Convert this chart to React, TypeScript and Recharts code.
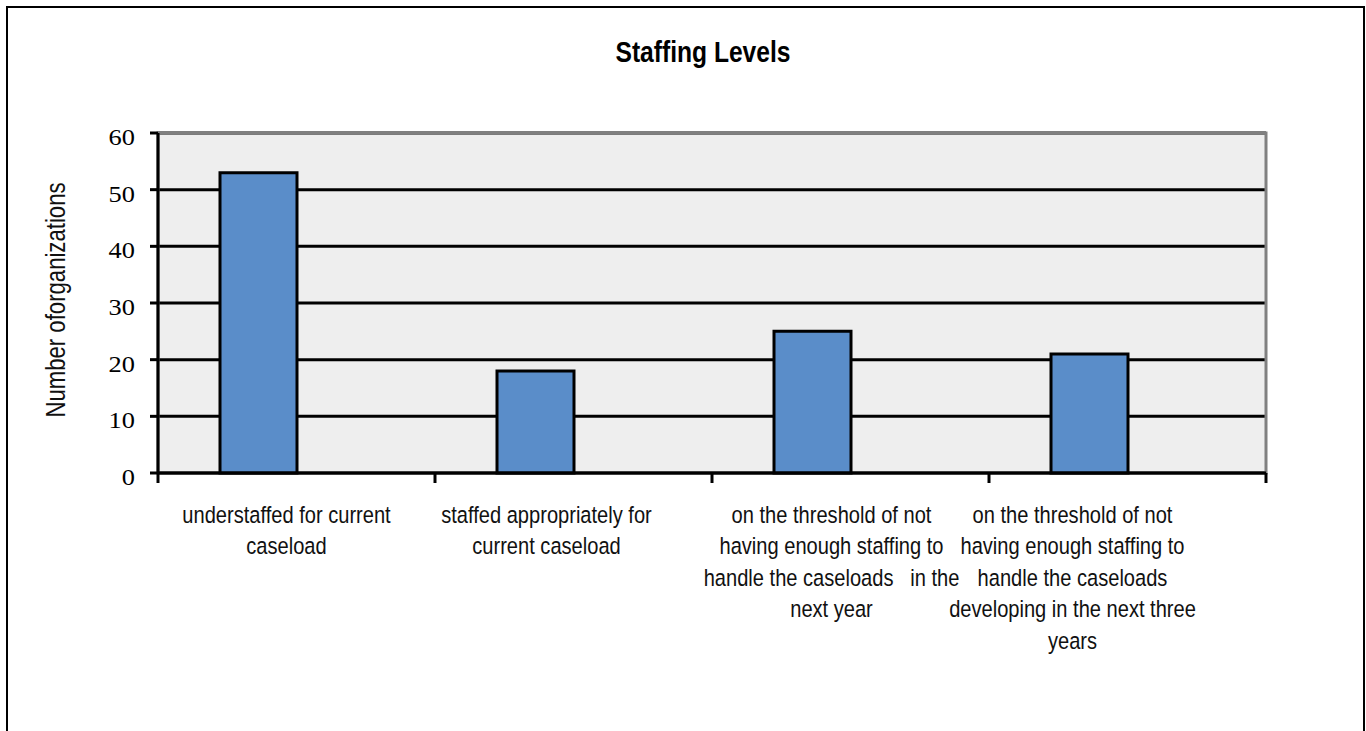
import React from "react";
import { BarChart, Bar, XAxis, YAxis, CartesianGrid, ReferenceArea } from "recharts";

// wrapped category labels, as they appear under the axis
const categoryLines: string[][] = [
  ["understaffed for current", "caseload"],
  ["staffed appropriately for", "current caseload"],
  ["on the threshold of not", "having enough staffing to", "handle the caseloads   in the", "next year"],
  ["on the threshold of not", "having enough staffing to", "handle the caseloads", "developing in the next three", "years"],
];
const categories = categoryLines.map((l) => l.join(" "));
const organizations = [53, 18, 25, 21];
const yTicks = [0, 10, 20, 30, 40, 50, 60];

const data = categories.map((c, i) => ({
  name: c,
  organizations: organizations[i],
  blank: null as number | null,
}));

const SANS = "'Liberation Sans', Arial, sans-serif";
const SERIF = "'Liberation Serif', 'Times New Roman', serif";
const NARROW_X = 0.82; // Arial Narrow look
const PLOT_LEFT = 158;
const PLOT_RIGHT = 1266;
const HALF_BAND = (PLOT_RIGHT - PLOT_LEFT) / categories.length / 2;
const LABEL_SHIFT = [-10, -27, -19, -55];

const YTick = (props: any) => {
  const { x, y, payload } = props;
  return (
    <text
      transform={`translate(${x},${y + 12}) scale(1.1,1)`}
      textAnchor="end"
      style={{ fontFamily: SERIF, fontSize: 24 }}
      fill="#000"
    >
      {payload.value}
    </text>
  );
};

const XTick = (props: any) => {
  const { x, y, payload, index } = props;
  const lines = categoryLines[index] || [String(payload.value)];
  const cx = x + LABEL_SHIFT[index];
  const isLast = index === categories.length - 1;
  return (
    <g>
      <line x1={x - HALF_BAND} x2={x - HALF_BAND} y1={y} y2={y + 10} stroke="#000" strokeWidth={3} />
      {isLast && <line x1={x + HALF_BAND} x2={x + HALF_BAND} y1={y} y2={y + 10} stroke="#000" strokeWidth={3} />}
      <text
        transform={`translate(${cx},${y}) scale(${NARROW_X},1)`}
        textAnchor="middle"
        style={{ fontFamily: SANS, fontSize: 24.5, whiteSpace: "pre" }}
        fill="#111"
      >
        {lines.map((line, i) => (
          <tspan key={i} x={0} y={50 + i * 31.5}>
            {line}
          </tspan>
        ))}
      </text>
    </g>
  );
};

export default function App() {
  return (
    <div style={{ position: "absolute", left: 0, top: 0, width: 1366, height: 731, background: "#fff", overflow: "hidden" }}>
      <div
        style={{
          position: "absolute",
          left: 6,
          top: 6,
          width: 1359,
          height: 725,
          boxSizing: "border-box",
          border: "2px solid #000",
          borderBottom: "none",
        }}
      />
      <div
        style={{
          position: "absolute",
          left: 503,
          width: 400,
          top: 34,
          textAlign: "center",
          fontFamily: SANS,
          fontWeight: "bold",
          fontSize: 30,
          lineHeight: "36px",
          color: "#000",
          transform: `scaleX(${NARROW_X})`,
        }}
      >
        Staffing Levels
      </div>
      <div
        style={{
          position: "absolute",
          left: 56 - 160,
          top: 300 - 16,
          width: 320,
          lineHeight: "32px",
          textAlign: "center",
          fontFamily: SANS,
          fontSize: 27,
          color: "#111",
          transform: `rotate(-90deg) scaleX(${NARROW_X})`,
          transformOrigin: "center",
        }}
      >
        Number oforganizations
      </div>
      <div style={{ position: "absolute", left: 0, top: 0 }}>
        <BarChart
          width={1366}
          height={731}
          data={data}
          margin={{ top: 133, right: 1366 - PLOT_RIGHT, bottom: 0, left: 0 }}
          barCategoryGap={62}
          barGap={0}
        >
          <CartesianGrid vertical={false} fill="#eeeeee" stroke="#000" strokeWidth={3} />
          <ReferenceArea y1={0} y2={60} fill="none" stroke="#808080" strokeWidth={3} fillOpacity={0} />
          <XAxis
            dataKey="name"
            height={258}
            interval={0}
            tickSize={0}
            tickMargin={0}
            tickLine={false}
            axisLine={{ stroke: "#000", strokeWidth: 3 }}
            tick={<XTick />}
          />
          <YAxis
            width={PLOT_LEFT}
            domain={[0, 60]}
            ticks={yTicks}
            tickSize={8}
            tickMargin={15}
            tickLine={{ stroke: "#000", strokeWidth: 3 }}
            axisLine={{ stroke: "#000", strokeWidth: 3 }}
            tick={<YTick />}
          />
          <Bar dataKey="organizations" fill="#5a8dc9" stroke="#000" strokeWidth={3} isAnimationActive={false} />
          <Bar dataKey="blank" fill="#c0504d" isAnimationActive={false} />
        </BarChart>
      </div>
    </div>
  );
}
